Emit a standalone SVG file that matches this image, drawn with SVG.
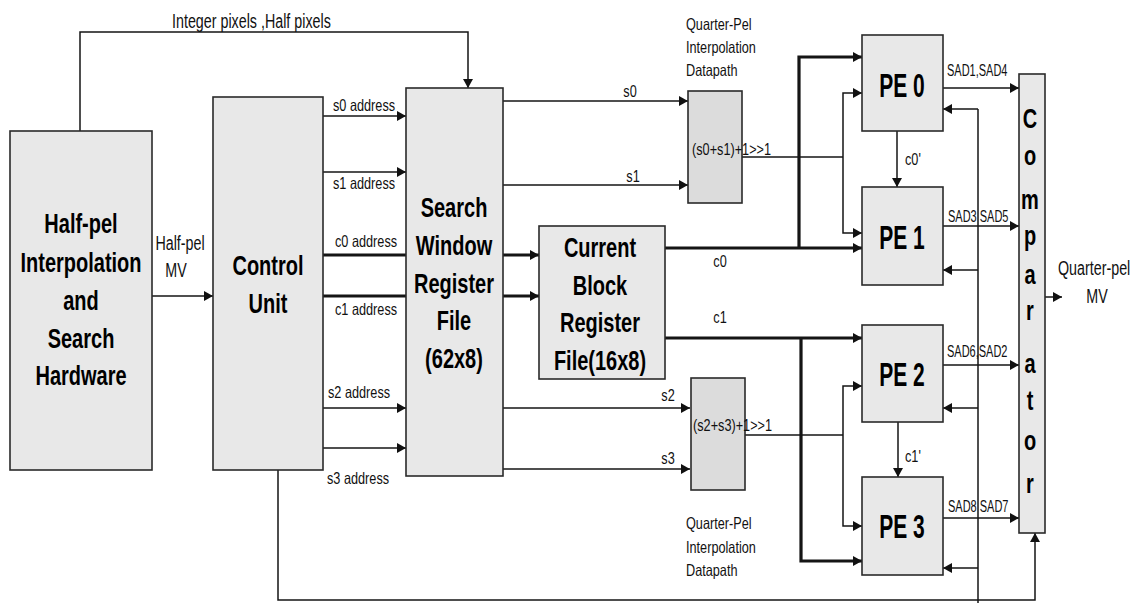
<svg xmlns="http://www.w3.org/2000/svg" width="1141" height="603" viewBox="0 0 1141 603">
<style>
.box{fill:#e8e8e8;stroke:#2a2a2a;stroke-width:1.6}
.qbox{fill:#dcdcdc;stroke:#2a2a2a;stroke-width:1.6}
.w{fill:none;stroke:#151515;stroke-width:1.5}
.t{fill:none;stroke:#151515;stroke-width:3.2}
.a{marker-end:url(#ah)}
.b{font-family:"Liberation Sans",Arial,sans-serif;font-weight:bold;font-size:20px;text-anchor:middle;fill:#000}
.pe{font-family:"Liberation Sans",Arial,sans-serif;font-weight:bold;font-size:21px;text-anchor:middle;fill:#000}
.l{font-family:"Liberation Sans",Arial,sans-serif;font-size:12.7px;fill:#111}
.m{font-family:"Liberation Sans",Arial,sans-serif;font-size:14.3px;fill:#111}
.s{font-family:"Liberation Sans",Arial,sans-serif;font-size:11px;fill:#111}
.c{text-anchor:middle}
</style>
<defs>
<marker id="ah" viewBox="0 0 10 10" refX="10" refY="5" markerWidth="9" markerHeight="10" markerUnits="userSpaceOnUse" orient="auto" preserveAspectRatio="none"><path d="M0,0 L10,5 L0,10 z" fill="#111"/></marker>
</defs>
<rect width="1141" height="603" fill="#fff"/>

<g id="connectors">
<path class="w a" d="M80,131 V32 H468 V88"/>
<path class="w a" d="M152,296 H213"/>
<path class="w a" d="M323,116 H406"/>
<path class="w a" d="M323,172 H406"/>
<path class="t" d="M323,255 H406"/>
<path class="t" d="M323,296 H406"/>
<path class="w a" d="M323,408 H406"/>
<path class="w a" d="M323,448 H406"/>
<path class="t a" d="M503,255 H539"/>
<path class="t a" d="M503,296 H539"/>
<path class="w a" d="M503,101 H688"/>
<path class="w a" d="M503,185 H688"/>
<path class="w a" d="M503,408 H690"/>
<path class="w a" d="M503,469 H690"/>
<path class="w" d="M742,157 H843"/>
<path class="w a" d="M843,157 V93 H862"/>
<path class="w a" d="M843,157 V233 H862"/>
<path class="t a" d="M665,248 H862"/>
<path class="t a" d="M799,248 V57 H862"/>
<path class="t a" d="M665,338 H862"/>
<path class="t a" d="M801,338 V561 H862"/>
<path class="w" d="M745,435 H843"/>
<path class="w a" d="M843,435 V386 H862"/>
<path class="w a" d="M843,435 V526 H862"/>
<path class="w a" d="M897,131 V187"/>
<path class="w a" d="M898,422 V477"/>
<path class="w a" d="M943,88 H1019"/>
<path class="w a" d="M943,226 H1019"/>
<path class="w a" d="M943,365 H1019"/>
<path class="w a" d="M943,518 H1019"/>
<path class="w" d="M978,109 V603"/>
<path class="w a" d="M978,109 H943"/>
<path class="w a" d="M978,270 H943"/>
<path class="w a" d="M978,408 H943"/>
<path class="w a" d="M978,568 H943"/>
<path class="w a" d="M278,470 V600 H1035 V533"/>
<path class="w a" d="M1045,297 H1062"/>

<text class="m" transform="translate(172 28) scale(1 1.45)">Integer pixels ,Half pixels</text>
<text class="m c" transform="translate(180 250) scale(1 1.35)">Half-pel</text>
<text class="m c" transform="translate(176 277) scale(1 1.35)">MV</text>
<text class="l" transform="translate(333 111) scale(1 1.3)">s0 address</text>
<text class="l" transform="translate(333 189) scale(1 1.3)">s1 address</text>
<text class="l" transform="translate(335 247) scale(1 1.3)">c0 address</text>
<text class="l" transform="translate(335 315) scale(1 1.3)">c1 address</text>
<text class="l" transform="translate(328 398) scale(1 1.3)">s2 address</text>
<text class="l" transform="translate(327 484) scale(1 1.3)">s3 address</text>
<text class="l c" transform="translate(630 97) scale(1 1.3)">s0</text>
<text class="l c" transform="translate(633 182) scale(1 1.3)">s1</text>
<text class="l c" transform="translate(668 401) scale(1 1.3)">s2</text>
<text class="l c" transform="translate(668 464) scale(1 1.3)">s3</text>
<text class="l c" transform="translate(720 267) scale(1 1.3)">c0</text>
<text class="l c" transform="translate(720 323) scale(1 1.3)">c1</text>
<text class="l" transform="translate(905 165) scale(1 1.3)">c0'</text>
<text class="l" transform="translate(905 462) scale(1 1.3)">c1'</text>
<text class="s" transform="translate(947 76) scale(1 1.45)">SAD1,SAD4</text>
<text class="s" transform="translate(948 222) scale(1 1.45)">SAD3 SAD5</text>
<text class="s" transform="translate(947 357) scale(1 1.45)">SAD6,SAD2</text>
<text class="s" transform="translate(948 512) scale(1 1.45)">SAD8 SAD7</text>
<text class="m" transform="translate(1058 275) scale(1 1.35)">Quarter-pel</text>
<text class="m c" transform="translate(1097 303) scale(1 1.35)">MV</text>
</g>

<g id="halfpel">
<rect class="box" x="10" y="131" width="142" height="339"/>
<text class="b" transform="translate(81 233) scale(1 1.35)">Half-pel</text>
<text class="b" transform="translate(81 272) scale(1 1.35)">Interpolation</text>
<text class="b" transform="translate(81 310) scale(1 1.35)">and</text>
<text class="b" transform="translate(81 348) scale(1 1.35)">Search</text>
<text class="b" transform="translate(81 385) scale(1 1.35)">Hardware</text>
</g>

<g id="control">
<rect class="box" x="213" y="97" width="110" height="373"/>
<text class="b" transform="translate(268 275) scale(1 1.35)">Control</text>
<text class="b" transform="translate(268 313) scale(1 1.35)">Unit</text>
</g>

<g id="searchwindow">
<rect class="box" x="406" y="88" width="97" height="388"/>
<text class="b" transform="translate(454 217) scale(1 1.35)">Search</text>
<text class="b" transform="translate(454 255) scale(1 1.35)">Window</text>
<text class="b" transform="translate(454 293) scale(1 1.35)">Register</text>
<text class="b" transform="translate(454 330) scale(1 1.35)">File</text>
<text class="b" transform="translate(454 368) scale(1 1.35)">(62x8)</text>
</g>

<g id="currentblock">
<rect class="box" x="539" y="226" width="126" height="153"/>
<text class="b" transform="translate(600 257) scale(1 1.35)">Current</text>
<text class="b" transform="translate(600 295) scale(1 1.35)">Block</text>
<text class="b" transform="translate(600 332) scale(1 1.35)">Register</text>
<text class="b" transform="translate(600 370) scale(1 1.35)">File(16x8)</text>
</g>

<g id="qpel0">
<rect class="qbox" x="688" y="91" width="54" height="112"/>
<text class="l" transform="translate(692 155) scale(1 1.3)">(s0+s1)+1&gt;&gt;1</text>
<text class="l" transform="translate(686 30) scale(1 1.3)">Quarter-Pel</text>
<text class="l" transform="translate(686 53) scale(1 1.3)">Interpolation</text>
<text class="l" transform="translate(686 76) scale(1 1.3)">Datapath</text>
</g>

<g id="qpel1">
<rect class="qbox" x="691" y="378" width="54" height="112"/>
<text class="l" transform="translate(693 431) scale(1 1.3)">(s2+s3)+1&gt;&gt;1</text>
<text class="l" transform="translate(686 529) scale(1 1.3)">Quarter-Pel</text>
<text class="l" transform="translate(686 553) scale(1 1.3)">Interpolation</text>
<text class="l" transform="translate(686 576) scale(1 1.3)">Datapath</text>
</g>

<g id="pe0">
<rect class="box" x="862" y="35" width="81" height="96"/>
<text class="pe" transform="translate(902 97) scale(1 1.6)">PE 0</text>
</g>
<g id="pe1">
<rect class="box" x="862" y="187" width="81" height="98"/>
<text class="pe" transform="translate(902 249) scale(1 1.6)">PE 1</text>
</g>
<g id="pe2">
<rect class="box" x="862" y="325" width="81" height="97"/>
<text class="pe" transform="translate(902 386) scale(1 1.6)">PE 2</text>
</g>
<g id="pe3">
<rect class="box" x="862" y="477" width="81" height="98"/>
<text class="pe" transform="translate(902 538) scale(1 1.6)">PE 3</text>
</g>

<g id="comparator">
<rect class="box" x="1019" y="74" width="26" height="459"/>
<text class="b" transform="translate(1030 128) scale(1 1.35)">C</text>
<text class="b" transform="translate(1030 165) scale(1 1.35)">o</text>
<text class="b" transform="translate(1030 209) scale(1 1.35)">m</text>
<text class="b" transform="translate(1030 245) scale(1 1.35)">p</text>
<text class="b" transform="translate(1030 284) scale(1 1.35)">a</text>
<text class="b" transform="translate(1030 320) scale(1 1.35)">r</text>
<text class="b" transform="translate(1030 373) scale(1 1.35)">a</text>
<text class="b" transform="translate(1030 410) scale(1 1.35)">t</text>
<text class="b" transform="translate(1030 450) scale(1 1.35)">o</text>
<text class="b" transform="translate(1030 493) scale(1 1.35)">r</text>
</g>
</svg>
